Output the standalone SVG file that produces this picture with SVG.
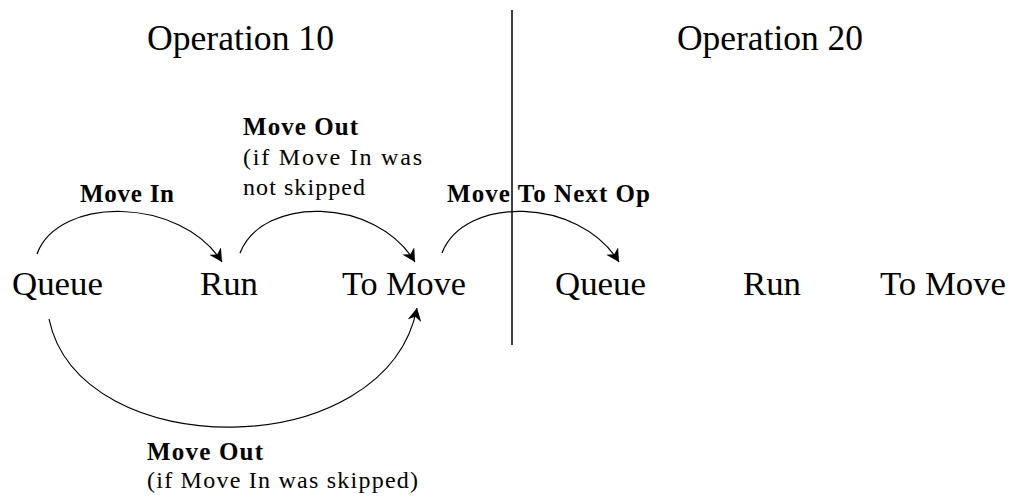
<svg xmlns="http://www.w3.org/2000/svg" width="1018" height="502" viewBox="0 0 1018 502">
<style>
text{font-family:'Liberation Serif','Times New Roman','DejaVu Serif',Times,serif;fill:#000}
.node{font-size:34px}
.title{font-size:35px}
.lbl{font-size:25px;font-weight:bold}
.sub{font-size:24px}
.conn{fill:none;stroke:#000;stroke-width:1.2}
</style>
<defs>
<marker id="arr" markerUnits="userSpaceOnUse" markerWidth="14" markerHeight="14" refX="13" refY="7" orient="auto">
<path d="M0,0 L13,7 L0,14 L4,7 z" fill="#000"/>
</marker>
</defs>
<rect width="1018" height="502" fill="#fff"/>
<g id="divider">
<line x1="512" y1="10" x2="512" y2="345" stroke="#000" stroke-width="1.5"/>
</g>
<g id="titles">
<text class="title" x="147" y="50" textLength="187" lengthAdjust="spacingAndGlyphs">Operation 10</text>
<text class="title" x="677" y="50" textLength="186" lengthAdjust="spacingAndGlyphs">Operation 20</text>
</g>
<g id="connectors">
<path class="conn" d="M37,254 C58,196 180,196 222,262" marker-end="url(#arr)"/>
<path class="conn" d="M240,253 C262,196 375,196 415,262" marker-end="url(#arr)"/>
<path class="conn" d="M442,253 C464,196 578,196 619,262" marker-end="url(#arr)"/>
<path class="conn" d="M49,319 C80,465 386,465 417,308" marker-end="url(#arr)"/>
</g>
<g id="node-queue-10"><text class="node" x="12" y="295" textLength="91" lengthAdjust="spacingAndGlyphs">Queue</text></g>
<g id="node-run-10"><text class="node" x="200" y="295" textLength="58" lengthAdjust="spacingAndGlyphs">Run</text></g>
<g id="node-tomove-10"><text class="node" x="342" y="295" textLength="124" lengthAdjust="spacingAndGlyphs">To Move</text></g>
<g id="node-queue-20"><text class="node" x="555" y="295" textLength="91" lengthAdjust="spacingAndGlyphs">Queue</text></g>
<g id="node-run-20"><text class="node" x="743" y="295" textLength="58" lengthAdjust="spacingAndGlyphs">Run</text></g>
<g id="node-tomove-20"><text class="node" x="880" y="295" textLength="126" lengthAdjust="spacingAndGlyphs">To Move</text></g>
<g id="labels">
<text class="lbl" x="80" y="202" textLength="94" lengthAdjust="spacing">Move In</text>
<text class="lbl" x="243" y="135" textLength="115" lengthAdjust="spacing">Move Out</text>
<text class="sub" x="243" y="165" textLength="179" lengthAdjust="spacing">(if Move In was</text>
<text class="sub" x="243" y="195" textLength="122" lengthAdjust="spacing">not skipped</text>
<text class="lbl" x="447" y="202" textLength="203" lengthAdjust="spacing">Move To Next Op</text>
<text class="lbl" x="147" y="460" textLength="116" lengthAdjust="spacing">Move Out</text>
<text class="sub" x="147" y="488" textLength="271" lengthAdjust="spacing">(if Move In was skipped)</text>
</g>
</svg>
